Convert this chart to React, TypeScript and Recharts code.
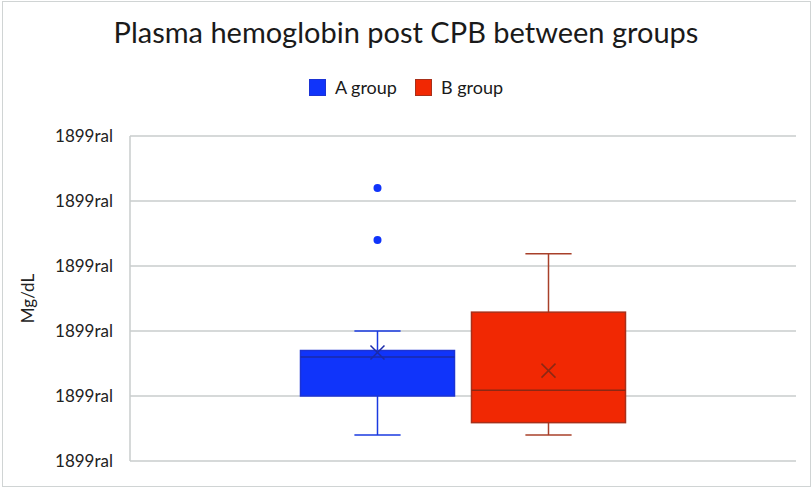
import React from 'react';
import { ComposedChart, Bar, XAxis, YAxis, CartesianGrid, Label } from 'recharts';

const groups = ['A group', 'B group'];
const whiskerLow = [4, 4];
const q1 = [10, 5.9];
const median = [16, 10.9];
const q3 = [17, 22.9];
const whiskerHigh = [20, 31.9];
const means = [16.7, 13.9];
const outliers = [[42, 34], []];
const yTicks = [0, 10, 20, 30, 40, 50];

const fills = ['#1034fa', '#f12803'];
const strokes = ['#1c33d4', '#a8301a'];
const medianColors = ['#1a2aa8', '#8c2814'];
const whiskerColors = ['#1a3ae0', '#a8402a'];

const FONT = 'Lato, "Open Sans", sans-serif';

// one category, each group is a range bar spanning all its points
const rangeOf = (g: number) => {
  const vals = [whiskerLow[g], whiskerHigh[g], ...outliers[g]];
  return [Math.min(...vals), Math.max(...vals)];
};
const data = [{ name: 'all', g0: rangeOf(0), g1: rangeOf(1) }];

const makeBox = (g: number) => (props: any) => {
  const { x, y, width, height } = props;
  const [lo, hi] = rangeOf(g);
  const top = Math.min(y, y + height);
  const bottom = Math.max(y, y + height);
  const toY = (v: number) => bottom - ((bottom - top) * (v - lo)) / (hi - lo);
  const cx = x + width / 2;
  const cap = width * 0.15;
  const m = 7;
  return (
    <g>
      <line x1={cx} x2={cx} y1={toY(whiskerHigh[g])} y2={toY(q3[g])} stroke={whiskerColors[g]} strokeWidth={1.5} />
      <line x1={cx} x2={cx} y1={toY(q1[g])} y2={toY(whiskerLow[g])} stroke={whiskerColors[g]} strokeWidth={1.5} />
      <line x1={cx - cap} x2={cx + cap} y1={toY(whiskerHigh[g])} y2={toY(whiskerHigh[g])} stroke={whiskerColors[g]} strokeWidth={1.5} />
      <line x1={cx - cap} x2={cx + cap} y1={toY(whiskerLow[g])} y2={toY(whiskerLow[g])} stroke={whiskerColors[g]} strokeWidth={1.5} />
      <rect x={x} y={toY(q3[g])} width={width} height={toY(q1[g]) - toY(q3[g])} fill={fills[g]} stroke={strokes[g]} strokeWidth={1.5} />
      <line x1={x} x2={x + width} y1={toY(median[g])} y2={toY(median[g])} stroke={medianColors[g]} strokeWidth={1.5} />
      <line x1={cx - m} x2={cx + m} y1={toY(means[g]) - m} y2={toY(means[g]) + m} stroke={medianColors[g]} strokeWidth={1.5} />
      <line x1={cx - m} x2={cx + m} y1={toY(means[g]) + m} y2={toY(means[g]) - m} stroke={medianColors[g]} strokeWidth={1.5} />
      {outliers[g].map((v, i) => (
        <circle key={i} cx={cx} cy={toY(v)} r={4} fill={fills[g]} />
      ))}
    </g>
  );
};

const App: React.FC = () => {
  return (
    <div style={{ position: 'absolute', left: 0, top: 0, width: 812, height: 488, background: '#fff', fontFamily: FONT }}>
      <div style={{ position: 'absolute', left: 2, top: 1, width: 807, height: 484, border: '1px solid #d0d4d4' }} />
      <div style={{ position: 'absolute', left: 0, top: 14, width: 812, textAlign: 'center', fontSize: 29, color: '#1a1a1a' }}>
        Plasma hemoglobin post CPB between groups
      </div>
      <div style={{ position: 'absolute', left: 0, top: 76, width: 812, display: 'flex', justifyContent: 'center', gap: 18, fontSize: 18, color: '#1a1a1a' }}>
        {groups.map((g, i) => (
          <div key={g} style={{ display: 'flex', alignItems: 'center', gap: 9 }}>
            <span style={{ display: 'inline-block', width: 15, height: 15, background: fills[i], border: `1px solid ${strokes[i]}` }} />
            <span>{g}</span>
          </div>
        ))}
      </div>
      <ComposedChart
        width={812}
        height={488}
        data={data}
        margin={{ top: 136, right: 16, bottom: 27, left: 0 }}
        barGap={17}
        barCategoryGap="25.6%"
        style={{ position: 'absolute', left: 0, top: 0 }}
      >
        <CartesianGrid vertical={false} stroke="#c8cdcd" strokeWidth={1.5} />
        <XAxis dataKey="name" hide />
        <YAxis
          width={130}
          domain={[0, 50]}
          ticks={yTicks}
          tickFormatter={() => '1899ral'}
          axisLine={{ stroke: '#c8cdcd', strokeWidth: 1.5 }}
          tickLine={false}
          tickSize={6}
          tickMargin={11}
          tick={{ fill: '#222', fontSize: 17, fontFamily: FONT }}
        >
          <Label value="Mg/dL" angle={-90} position="insideLeft" offset={28} style={{ textAnchor: 'middle', fill: '#222', fontSize: 17, fontFamily: FONT }} />
        </YAxis>
        <Bar dataKey="g0" name={groups[0]} fill={fills[0]} shape={makeBox(0)} isAnimationActive={false} />
        <Bar dataKey="g1" name={groups[1]} fill={fills[1]} shape={makeBox(1)} isAnimationActive={false} />
      </ComposedChart>
    </div>
  );
};

export default App;
